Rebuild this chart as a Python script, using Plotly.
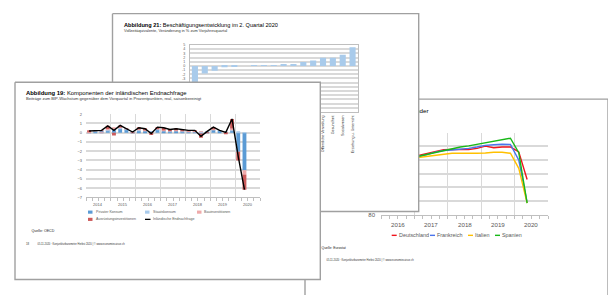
import plotly.graph_objects as go

FONT = "Liberation Sans, Arial, sans-serif"
W, H = 616, 295
OX, OY = 8, 8  # page body margin offset of the figure inside the window

# ---------------- Abbildung 19: Komponenten der inländischen Endnachfrage ----------------
years_a = ["2014", "2015", "2016", "2017", "2018", "2019", "2020"]
quarters_a = [f"{y} Q{q}" for y in years_a for q in (1, 2, 3, 4)]
privater_konsum = [-0.05, 0.15, 0.20, 0.25, 0.35, 0.40, 0.35, 0.05, 0.20, 0.20, 0.10, 0.30, 0.20,
                   0.15, 0.20, 0.15, 0.10, 0.10, -0.10, 0.10, 0.30, 0.20, 0.05, 0.25, -2.05, -4.06]
staatskonsum = [0.05, 0.05, 0.05, 0.05, 0.10, 0.10, 0.05, 0.05, 0.10, 0.05, 0.05, 0.10, 0.05,
                0.05, 0.05, 0.05, 0.05, 0.05, 0.10, 0.05, 0.05, 0.05, 0.05, 0.05, 0.10, 0.05]
bauinvestitionen = [0.05, 0.00, -0.02, 0.10, 0.10, 0.05, 0.00, 0.00, 0.10, 0.10, -0.05, 0.05, 0.10,
                    0.05, 0.05, 0.05, 0.05, 0.05, 0.05, 0.00, 0.10, 0.00, -0.02, 0.15, 0.00, -0.45]
ausruestung = [0.13, 0.05, 0.02, 0.34, -0.30, 0.23, 0.06, -0.03, 0.13, 0.07, -0.20, 0.15, 0.18,
               0.10, 0.12, 0.07, 0.05, 0.05, -0.44, -0.01, 0.15, 0.00, -0.05, 1.03, -0.95, -1.65]
endnachfrage = [0.18, 0.25, 0.25, 0.74, 0.25, 0.78, 0.46, 0.07, 0.53, 0.42, -0.10, 0.60, 0.53,
                0.35, 0.42, 0.32, 0.25, 0.25, -0.39, 0.14, 0.60, 0.25, 0.03, 1.48, -2.60, -6.15]

# ---------------- Abbildung 21: Beschäftigungsentwicklung ----------------
branchen = ["Gastgewerbe", "Kunst, Unterhaltung", "Verkehr, Lagerei", "Sonstige Dienstleistungen",
            "Handel", "Industrie", "Bau", "Energie", "Immobilien", "Information, Kommunikation",
            "Finanzdienstleistungen", "Freiberufliche Dienste", "Versicherungen",
            "Öffentliche Verwaltung", "Gesundheit", "Sozialwesen", "Erziehung u. Unterricht"]
beschaeftigung = [-10.0, -1.8, -1.15, -0.3, -0.05, 0.0, 0.02, 0.05, 0.1, 0.22, 0.4, 0.95, 1.3,
                  1.95, 1.95, 2.65, 4.45]
ticks_b = list(range(-11, 6))

# ---------------- Abbildung 20: BIP ausgewählter Länder ----------------
years_c = ["2016", "2017", "2018", "2019", "2020"]
quarters_c = [f"{y} Q{q}" for y in years_c for q in (1, 2, 3, 4)][:18]
deutschland = [99.4, 99.9, 100.4, 101.0, 101.7, 102.4, 103.1, 103.8, 103.9, 104.0, 103.9, 104.3,
               105.1, 104.5, 104.8, 104.8, 103.0, 92.9]
frankreich = [99.3, 99.6, 100.0, 100.6, 101.2, 102.0, 102.9, 103.5, 103.7, 103.9, 104.3, 104.8,
              105.4, 105.6, 105.8, 105.7, 100.0, 84.5]
italien = [99.6, 99.8, 100.2, 100.6, 101.0, 101.3, 101.7, 102.3, 102.5, 102.5, 102.4, 102.5,
           102.6, 102.9, 102.9, 102.5, 97.0, 84.3]
spanien = [99.0, 99.7, 100.4, 100.9, 101.4, 102.1, 102.9, 103.6, 104.2, 104.8, 105.2, 105.8,
           106.3, 106.9, 107.4, 108.0, 102.7, 84.3]

# ---------------- colours ----------------
C_PK, C_SK, C_BI, C_AI = "#5b9bd5", "#a9cbec", "#eeaaaa", "#cc5b5b"
C_B = "#a9cbeb"
C_DE, C_FR, C_IT, C_ES = "#f0141c", "#4a74ec", "#ffc000", "#18b818"
SHEET_LINE = "#a0a0a0"
GRID = "#d9d9d9"


def fx(px):
    return (px - OX) / W


def fy(py):
    return 1 - (py - OY) / H


fig = go.Figure()


def sheet(ax, x0, y0, x1, y1):
    fig.add_trace(go.Scatter(x=[x0, x1, x1, x0, x0], y=[y0, y0, y1, y1, y0], mode="lines",
                             fill="toself", fillcolor="white",
                             line=dict(color=SHEET_LINE, width=1.4),
                             xaxis="x" + ax, yaxis="y" + ax, showlegend=False, hoverinfo="skip"))


def txt(ax, x, y, text, size, pos="middle right", color="#000000"):
    fig.add_trace(go.Scatter(x=[x], y=[y], mode="text", text=[text], textposition=pos,
                             textfont=dict(size=size, color=color, family=FONT),
                             xaxis="x" + ax, yaxis="y" + ax, showlegend=False, hoverinfo="skip"))


FOOT = "05.11.2020 · Konjunkturbarometer Herbst 2020 | © www.economiesuisse.ch"

# ===== Layer 1: back sheet (Abbildung 20) =====
sheet("", 305, 98, 608, 320)
txt("", 428.5, 111, "<b>Abbildung 20:</b> BIP ausgewählter Länder", 6.2, pos="middle left")
txt("", 321.5, 250.3, "Quelle: Eurostat", 3.4, color="#222222")
txt("", 326.5, 263, FOOT, 2.6, color="#333333")

# ===== Layer 2: line chart =====
xc = list(range(len(deutschland)))
for name, vals, col in [("Deutschland", deutschland, C_DE), ("Frankreich", frankreich, C_FR),
                        ("Italien", italien, C_IT), ("Spanien", spanien, C_ES)]:
    fig.add_trace(go.Scatter(x=xc, y=vals, mode="lines", name=name, line=dict(color=col, width=1.4),
                             xaxis="x2", yaxis="y2", showlegend=False, hoverinfo="skip"))

# ===== Layer 3: middle sheet (Abbildung 21) =====
sheet("3", 112.5, 10.7, 418.7, 212.7)
txt("3", 124, 23.3, "<b>Abbildung 21:</b> Beschäftigungsentwicklung im 2. Quartal 2020", 5.6)
txt("3", 124, 28.6, "Vollzeitäquivalente, Veränderung in % zum Vorjahresquartal", 3.9, color="#333333")

# ===== Layer 4: bar chart B =====
fig.add_trace(go.Bar(x=branchen, y=beschaeftigung, marker=dict(color=C_B, line=dict(width=0)),
                     xaxis="x4", yaxis="y4", showlegend=False, hoverinfo="skip"))

# ===== Layer 5: front sheet (Abbildung 19) =====
sheet("5", 15, 80.7, 320.3, 282)
txt("5", 26, 92.6, "<b>Abbildung 19:</b> Komponenten der inländischen Endnachfrage", 5.9)
txt("5", 26, 98.2, "Beiträge zum BIP-Wachstum gegenüber dem Vorquartal in Prozentpunkten, real, saisonbereinigt",
    4.1, color="#333333")
txt("5", 31.5, 232.7, "Quelle: OECD", 3.6, color="#222222")
txt("5", 26, 245.7, "18", 2.8, color="#333333")
txt("5", 37.5, 245.7, FOOT, 2.6, color="#333333")

# ===== Layer 6: chart A =====
xa = list(range(len(privater_konsum)))
for name, vals, col in [("Privater Konsum", privater_konsum, C_PK), ("Staatskonsum", staatskonsum, C_SK),
                        ("Bauinvestitionen", bauinvestitionen, C_BI),
                        ("Ausrüstungsinvestitionen", ausruestung, C_AI)]:
    fig.add_trace(go.Bar(x=xa, y=vals, name=name, marker=dict(color=col, line=dict(width=0)),
                         xaxis="x6", yaxis="y6", showlegend=False, hoverinfo="skip"))
fig.add_trace(go.Scatter(x=xa, y=endnachfrage, mode="lines", name="Inländische Endnachfrage",
                         line=dict(color="#000000", width=1.4), xaxis="x6", yaxis="y6",
                         showlegend=False, hoverinfo="skip"))

# ---------------- axes ----------------
paper_x = dict(domain=[0, 1], range=[OX, W + OX], visible=False, fixedrange=True)
paper_y = dict(domain=[0, 1], range=[H + OY, OY], visible=False, fixedrange=True)

n_a = len(quarters_a)
n_c = len(years_c) * 4
bounds_a = [i - 0.5 for i in range(0, n_a + 1, 4)]
minor_a = [i - 0.5 for i in range(n_a + 1)]
bounds_c = [i - 0.5 for i in range(0, n_c + 1, 4)]
minor_c = [i - 0.5 for i in range(n_c + 1)]

AXC = "#bfbfbf"
TICKC = "#595959"

layout = dict(
    width=W, height=H, margin=dict(l=0, r=0, t=0, b=0),
    paper_bgcolor="white", plot_bgcolor="rgba(0,0,0,0)",
    barmode="relative", bargap=0.38,
    font=dict(family=FONT, color="#000000"),
    xaxis=dict(paper_x, anchor="y"), yaxis=dict(paper_y, anchor="x"),
    xaxis3=dict(paper_x, anchor="y3"), yaxis3=dict(paper_y, anchor="x3"),
    xaxis5=dict(paper_x, anchor="y5"), yaxis5=dict(paper_y, anchor="x5"),
    # line chart (Abbildung 20)
    xaxis2=dict(domain=[fx(381), fx(548)], anchor="y2", range=[-0.5, n_c - 0.5],
                tickmode="array", tickvals=bounds_c, ticktext=[""] * len(bounds_c),
                showgrid=True, gridcolor=GRID, gridwidth=1.2, zeroline=False,
                ticks="outside", ticklen=11, tickcolor=AXC, tickwidth=1,
                showline=True, linecolor=AXC, linewidth=1,
                minor=dict(tickvals=minor_c, ticks="outside", ticklen=3, tickcolor=AXC, showgrid=False),
                fixedrange=True),
    yaxis2=dict(domain=[fy(216), fy(132.3)], anchor="x2", range=[80, 110], dtick=5, tick0=80,
                showgrid=True, gridcolor=GRID, gridwidth=1.5, zeroline=False,
                tickfont=dict(size=6, color=TICKC), ticks="", ticklabelstandoff=5, fixedrange=True),
    # bar chart (Abbildung 21)
    xaxis4=dict(domain=[fx(190), fx(357.5)], anchor="y4", type="category",
                tickangle=-90, tickfont=dict(size=3.7, color="#333333"), ticks="",
                showline=True, mirror=True, linecolor=AXC, linewidth=1, showgrid=False,
                ticklabelstandoff=1, fixedrange=True),
    yaxis4=dict(domain=[fy(111), fy(42.7)], anchor="x4", range=[-11, 5],
                tickmode="array", tickvals=ticks_b,
                ticktext=[str(v) if v >= -3 else "" for v in ticks_b],
                showgrid=True, gridcolor=GRID, gridwidth=1.5, zeroline=False,
                showline=True, mirror=True, linecolor=AXC, linewidth=1,
                tickfont=dict(size=3.6, color=TICKC), ticks="", ticklabelstandoff=3, fixedrange=True),
    # chart A (Abbildung 19)
    xaxis6=dict(domain=[fx(86), fx(260)], anchor="y6", range=[-0.5, n_a - 0.5],
                tickmode="array", tickvals=bounds_a, ticktext=[""] * len(bounds_a),
                showgrid=True, gridcolor=GRID, gridwidth=1.2, zeroline=False,
                ticks="outside", ticklen=9, tickcolor=AXC, tickwidth=1,
                showline=True, linecolor=AXC, linewidth=1,
                minor=dict(tickvals=minor_a, ticks="outside", ticklen=2.5, tickcolor=AXC, showgrid=False),
                fixedrange=True),
    yaxis6=dict(domain=[fy(198.3), fy(113.3)], anchor="x6", range=[-7, 2], dtick=1, tick0=0,
                showgrid=True, gridcolor=GRID, gridwidth=1.6, zeroline=False,
                tickfont=dict(size=4, color=TICKC), ticks="", ticklabelstandoff=3, fixedrange=True),
)
fig.update_layout(**layout)

annotations = []
shapes = []
# year labels chart A
for i, yr in enumerate(years_a):
    annotations.append(dict(x=4 * i + 1.5, y=fy(205.5), xref="x6", yref="paper", text=yr, showarrow=False,
                            font=dict(size=4, color=TICKC), xanchor="center", yanchor="middle"))
# year labels chart C
for i, yr in enumerate(years_c):
    annotations.append(dict(x=4 * i + 1.5, y=fy(226), xref="x2", yref="paper", text=yr, showarrow=False,
                            font=dict(size=6.2, color=TICKC), xanchor="center", yanchor="middle"))

# legend chart A
leg_a = [("Privater Konsum", C_PK, 88, 213.3, "box"), ("Staatskonsum", C_SK, 145, 213.3, "box"),
         ("Bauinvestitionen", C_BI, 197, 213.3, "box"),
         ("Ausrüstungsinvestitionen", C_AI, 88, 220.7, "box"),
         ("Inländische Endnachfrage", "#000000", 145, 220.7, "line")]
for label, col, lx, ly, kind in leg_a:
    if kind == "box":
        shapes.append(dict(type="rect", xref="paper", yref="paper", x0=fx(lx), x1=fx(lx + 4.5),
                           y0=fy(ly + 1.6), y1=fy(ly - 1.6), fillcolor=col, line=dict(width=0), layer="above"))
        tx = lx + 5.5
    else:
        shapes.append(dict(type="line", xref="paper", yref="paper", x0=fx(lx), x1=fx(lx + 5.5),
                           y0=fy(ly), y1=fy(ly), line=dict(color=col, width=1.3), layer="above"))
        tx = lx + 6
    annotations.append(dict(x=fx(tx), y=fy(ly), xref="paper", yref="paper", text=label, showarrow=False,
                            font=dict(size=3.6, color=TICKC), xanchor="left", yanchor="middle"))

# legend chart C
leg_c = [("Deutschland", C_DE, 391.7), ("Frankreich", C_FR, 430), ("Italien", C_IT, 468),
         ("Spanien", C_ES, 495)]
for label, col, lx in leg_c:
    ly = 237
    shapes.append(dict(type="line", xref="paper", yref="paper", x0=fx(lx), x1=fx(lx + 5),
                       y0=fy(ly), y1=fy(ly), line=dict(color=col, width=1.4), layer="above"))
    annotations.append(dict(x=fx(lx + 5.3), y=fy(ly), xref="paper", yref="paper", text=label,
                            showarrow=False, font=dict(size=5.4, color=TICKC), xanchor="left",
                            yanchor="middle"))

fig.update_layout(annotations=annotations, shapes=shapes)
fig.write_html("out.html")
